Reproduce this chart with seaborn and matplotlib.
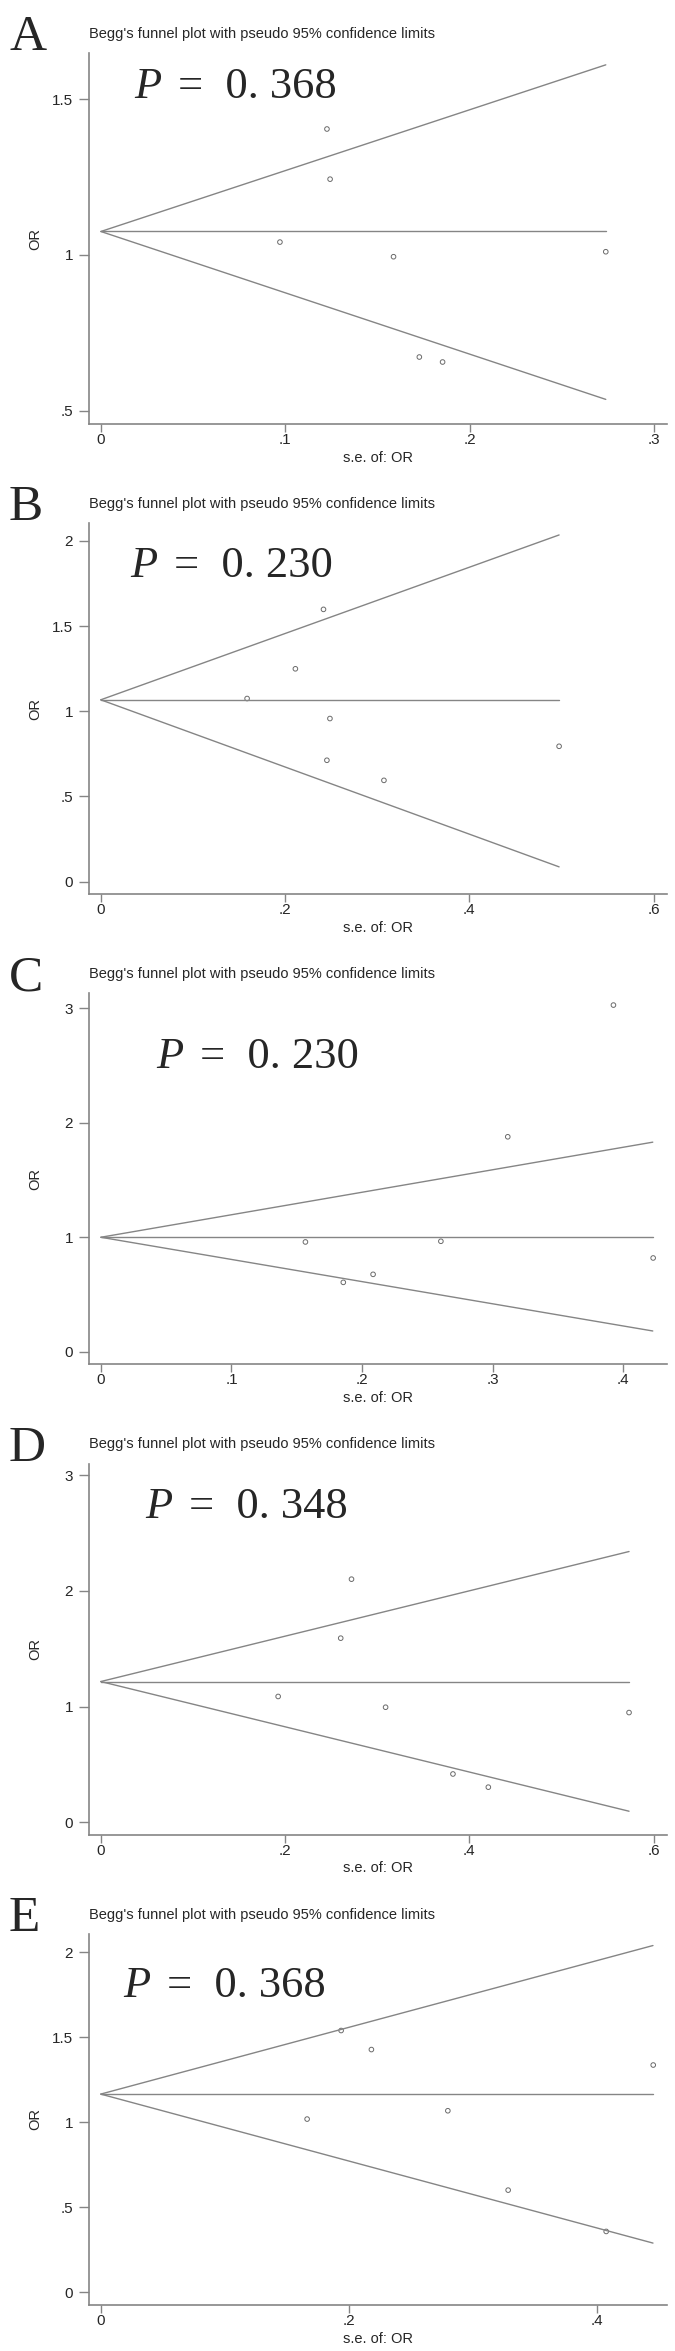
import pandas as pd
import matplotlib
matplotlib.use('Agg')
import matplotlib.pyplot as plt
import seaborn as sns

# panel letters and Begg's test p-values
panels = ['A', 'B', 'C', 'D', 'E']
p_values = ['0. 368', '0. 230', '0. 230', '0. 348', '0. 368']

se_A = [0.0971, 0.1226, 0.1243, 0.1587, 0.1727, 0.1853, 0.2738]
or_A = [1.041, 1.404, 1.243, 0.994, 0.672, 0.656, 1.010]
se_B = [0.1588, 0.2112, 0.2417, 0.2487, 0.2454, 0.3073, 0.4974]
or_B = [1.0745, 1.249, 1.598, 0.957, 0.712, 0.594, 0.794]
se_C = [0.1566, 0.1856, 0.2084, 0.2603, 0.3115, 0.3924, 0.4228]
or_C = [0.959, 0.606, 0.676, 0.965, 1.878, 3.029, 0.819]
se_D = [0.1925, 0.2604, 0.2721, 0.3091, 0.3822, 0.4206, 0.5733]
or_D = [1.087, 1.591, 2.101, 0.994, 0.417, 0.303, 0.948]
se_E = [0.1663, 0.1937, 0.2181, 0.2797, 0.3283, 0.4073, 0.4452]
or_E = [1.018, 1.539, 1.427, 1.067, 0.600, 0.357, 1.336]

# pooled estimate and pseudo 95% limits at the largest s.e.
center = [1.075, 1.067, 1.0, 1.216, 1.165]
se_max = [0.2738, 0.4974, 0.4225, 0.5733, 0.4450]
upper_end = [1.610, 2.035, 1.831, 2.340, 2.039]
lower_end = [0.536, 0.086, 0.181, 0.095, 0.2885]

# axis ticks (Stata style labels)
xticks = [[0, .1, .2, .3], [0, .2, .4, .6], [0, .1, .2, .3, .4], [0, .2, .4, .6], [0, .2, .4]]
xlabels = [['0', '.1', '.2', '.3'], ['0', '.2', '.4', '.6'], ['0', '.1', '.2', '.3', '.4'],
           ['0', '.2', '.4', '.6'], ['0', '.2', '.4']]
yticks = [[.5, 1, 1.5], [0, .5, 1, 1.5, 2], [0, 1, 2, 3], [0, 1, 2, 3], [0, .5, 1, 1.5, 2]]
ylabels = [['.5', '1', '1.5'], ['0', '.5', '1', '1.5', '2'], ['0', '1', '2', '3'],
           ['0', '1', '2', '3'], ['0', '.5', '1', '1.5', '2']]
xlims = [(-0.0066, 0.307), (-0.0131, 0.6145), (-0.0093, 0.4334), (-0.0131, 0.6145), (-0.0097, 0.4563)]
ylims = [(0.457, 1.648), (-0.0745, 2.104), (-0.111, 3.131), (-0.107, 3.10), (-0.0746, 2.108)]

ses = [se_A, se_B, se_C, se_D, se_E]
ors = [or_A, or_B, or_C, or_D, or_E]

# where the P text sits in each panel (pixels from panel top-left)
p_pos = [(134, 98), (130, 107), (156, 128), (145, 107), (123, 116)]

sns.set_theme(style='ticks')
plt.rcParams['font.family'] = ['Liberation Sans', 'DejaVu Sans']

W, H = 675, 2351
PH = H / 5.0
gray = '#858585'
fig = plt.figure(figsize=(W / 100, H / 100), dpi=100)

for i in range(5):
    oy = i * PH
    ax = fig.add_axes([88.7 / W, 1 - (oy + 424) / H, (667 - 88.7) / W, (424 - 53) / H])

    lines = pd.DataFrame({
        'se': [0, se_max[i], 0, se_max[i], 0, se_max[i]],
        'or': [center[i], upper_end[i], center[i], center[i], center[i], lower_end[i]],
        'part': ['up', 'up', 'mid', 'mid', 'low', 'low'],
    })
    sns.lineplot(data=lines, x='se', y='or', units='part', estimator=None, sort=False,
                 color=gray, linewidth=1.0, ax=ax)
    sns.scatterplot(x=ses[i], y=ors[i], ax=ax, marker='o', s=11,
                    facecolors='none', edgecolor='#6a6a6a', linewidth=0.7)

    ax.set_xlim(*xlims[i])
    ax.set_ylim(*ylims[i])
    ax.set_xticks(xticks[i], labels=xlabels[i])
    ax.set_yticks(yticks[i], labels=ylabels[i])
    ax.tick_params(axis='y', length=7.2, width=1.0, color=gray, pad=4, labelsize=11)
    ax.tick_params(axis='x', length=5.5, width=1.0, color=gray, pad=1, labelsize=11)
    for s in ['top', 'right']:
        ax.spines[s].set_visible(False)
    for s in ['left', 'bottom']:
        ax.spines[s].set_color(gray)
        ax.spines[s].set_linewidth(1.2)

    ax.set_xlabel('s.e. of: OR', fontsize=10.5)
    ax.xaxis.set_label_coords(0.5, -0.072)
    ax.set_ylabel('OR', fontsize=10.5)
    ax.yaxis.set_label_coords(-0.081, 0.5)
    ax.set_title("Begg's funnel plot with pseudo 95% confidence limits",
                 loc='left', pad=11, fontsize=10.5)

    fig.text(9 / W, 1 - (oy + 50) / H, panels[i], family='Liberation Serif',
             fontsize=37, va='baseline', ha='left')
    px, py = p_pos[i]
    fig.text(px / W, 1 - (oy + py) / H, 'P', family='Liberation Serif', style='italic',
             fontsize=32, va='baseline', ha='left')
    fig.text((px + 44) / W, 1 - (oy + py) / H, '=  ' + p_values[i], family='Liberation Serif',
             fontsize=32, va='baseline', ha='left')

fig.savefig('out.png', dpi=100, facecolor='white')
